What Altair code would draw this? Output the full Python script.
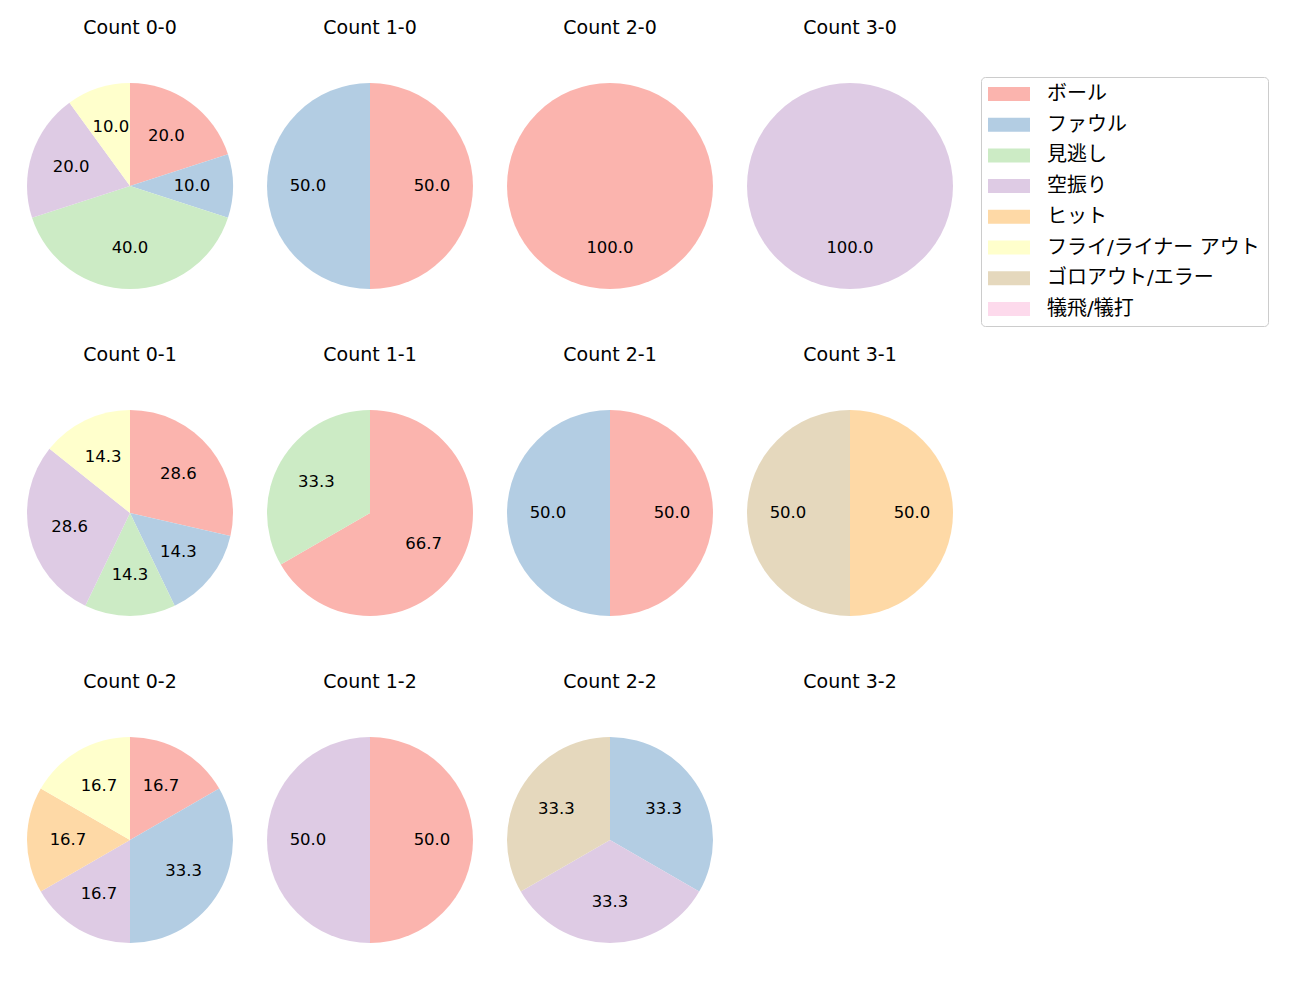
import altair as alt
import pandas as pd

categories = ["ボール", "ファウル", "見逃し", "空振り", "ヒット",
              "フライ/ライナー アウト", "ゴロアウト/エラー", "犠飛/犠打"]
colors = ["#fbb4ae", "#b3cde3", "#ccebc5", "#decbe4", "#fed9a6",
          "#ffffcc", "#e5d8bd", "#fddaec"]

counts_order = ["0-0", "1-0", "2-0", "3-0",
                "0-1", "1-1", "2-1", "3-1",
                "0-2", "1-2", "2-2", "3-2"]

# pitch result counts per ball-strike count (order of categories)
c_0_0 = [2, 1, 4, 2, 0, 1, 0, 0]
c_1_0 = [1, 1, 0, 0, 0, 0, 0, 0]
c_2_0 = [1, 0, 0, 0, 0, 0, 0, 0]
c_3_0 = [0, 0, 0, 1, 0, 0, 0, 0]
c_0_1 = [2, 1, 1, 2, 0, 1, 0, 0]
c_1_1 = [2, 0, 1, 0, 0, 0, 0, 0]
c_2_1 = [1, 1, 0, 0, 0, 0, 0, 0]
c_3_1 = [0, 0, 0, 0, 1, 0, 1, 0]
c_0_2 = [1, 2, 0, 1, 1, 1, 0, 0]
c_1_2 = [1, 0, 0, 1, 0, 0, 0, 0]
c_2_2 = [0, 1, 0, 1, 0, 0, 1, 0]
c_3_2 = [0, 0, 0, 0, 0, 0, 0, 0]

values = {
    "0-0": c_0_0, "1-0": c_1_0, "2-0": c_2_0, "3-0": c_3_0,
    "0-1": c_0_1, "1-1": c_1_1, "2-1": c_2_1, "3-1": c_3_1,
    "0-2": c_0_2, "1-2": c_1_2, "2-2": c_2_2, "3-2": c_3_2,
}

FONT = "DejaVu Sans"
JFONT = "DejaVu Sans, Noto Sans CJK JP"
PW, PH = 234, 320
CX, CY = 117, 173
R = 103

color_scale = alt.Scale(domain=categories, range=colors)
legend = alt.Legend(
    title=None, orient="none", legendX=968, legendY=64,
    padding=7, strokeColor="#cccccc", fillColor="white", cornerRadius=4,
    symbolType="M-1,-0.7L3.2,-0.7L3.2,0.7L-1,0.7Z", symbolSize=400,
    symbolStrokeWidth=0, symbolOpacity=1, labelOffset=39,
    labelFontSize=20, labelFont=JFONT, labelColor="black",
    rowPadding=10.7, labelLimit=400,
)


def panel(key, h):
    vals = values[key]
    total = sum(vals)
    rows = []
    for i, (cat, v) in enumerate(zip(categories, vals)):
        if v > 0:
            rows.append({"cat": cat, "idx": i, "value": v,
                         "label": f"{v / total * 100:.1f}"})
    df = pd.DataFrame(rows, columns=["cat", "idx", "value", "label"])
    base = alt.Chart(df).encode(
        theta=alt.Theta("value:Q", stack=True),
        order=alt.Order("idx:Q"),
        x=alt.value(CX), y=alt.value(CY),
    )
    arc = base.mark_arc(outerRadius=R).encode(
        color=alt.Color("cat:N", scale=color_scale, legend=legend)
    )
    text = base.mark_text(radius=62, fontSize=16.5, font=FONT, color="black").encode(
        text="label:N"
    )
    title = alt.Chart(pd.DataFrame({"t": [f"Count {key}"]})).mark_text(
        fontSize=19, font=FONT, color="black"
    ).encode(text="t:N", x=alt.value(CX), y=alt.value(15))
    return alt.layer(arc, text, title).properties(width=PW, height=h)


rows = []
for r in range(3):
    h = PH if r < 2 else 290
    rows.append(alt.hconcat(*[panel(counts_order[r * 4 + c], h) for c in range(4)], spacing=6))

chart = alt.vconcat(*rows, spacing=7).resolve_scale(color="shared").configure(
    background="white"
).configure_view(stroke=None)

chart.save("out.html", embed_options={"renderer": "svg", "actions": False})
